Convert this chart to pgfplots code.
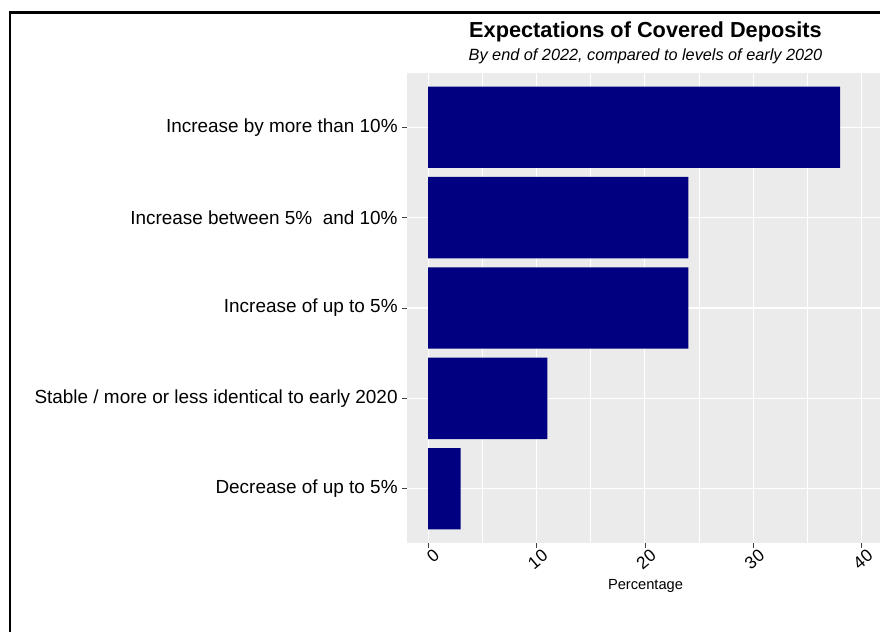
\documentclass[border=0pt]{standalone}
\usepackage{pgfplots}
\pgfplotsset{compat=1.18}
\usepackage{fontspec}
\setmainfont{Liberation Sans}
\definecolor{panel}{HTML}{EBEBEB}
\definecolor{barnavy}{HTML}{000080}
\begin{document}
\begin{tikzpicture}[x=0.75pt,y=0.75pt]
\useasboundingbox (0,0) rectangle (880,631);
\begin{scope}
\clip (0,0) rectangle (880,631);
\fill[white] (0,0) rectangle (880,631);
\draw[line width=1.6pt] (10,-10) -- (10,618.5) -- (890,618.5);
\begin{axis}[
  at={(305.25pt,66pt)}, anchor=south west, scale only axis,
  width=357.75pt, height=352.5pt,
  xbar, bar width=0.9,
  xmin=-1.95, xmax=42.06, ymin=0.4, ymax=5.6,
  ytick={1,...,5},
  yticklabels={Decrease of up to 5\%, Stable / more or less identical to early 2020, Increase of up to 5\%, Increase between 5\%~ and 10\%, Increase by more than 10\%},
  xtick={0,10,...,40}, minor xtick={5,15,25,35},
  grid=both,
  major grid style={white, line width=0.85pt},
  minor grid style={white, line width=0.45pt},
  axis background/.style={fill=panel},
  axis line style={draw=none},
  tick align=outside, xtick pos=bottom, ytick pos=left,
  major tick style={black!75, line width=0.6pt}, major tick length=3.5pt, minor tick length=0pt,
  /pgf/number format/assume math mode=true,
  xticklabel style={rotate=40, anchor=north east, inner sep=1.5pt, xshift=4pt, yshift=-1pt, font=\fontsize{13}{15}\selectfont},
  yticklabel style={font=\fontsize{14.2}{16}\selectfont},
]
\addplot[fill=barnavy, draw=none] coordinates {(3,1) (11,2) (24,3) (24,4) (38,5)};
\end{axis}
\node[anchor=base, font=\bfseries\fontsize{16.3}{18}\selectfont] at (645.5,593) {Expectations of Covered Deposits};
\node[anchor=base, font=\itshape\fontsize{12.2}{14}\selectfont] at (645.5,570) {By end of 2022, compared to levels of early 2020};
\node[anchor=base, font=\fontsize{11}{13}\selectfont] at (645.5,42) {Percentage};
\end{scope}
\end{tikzpicture}
\end{document}
